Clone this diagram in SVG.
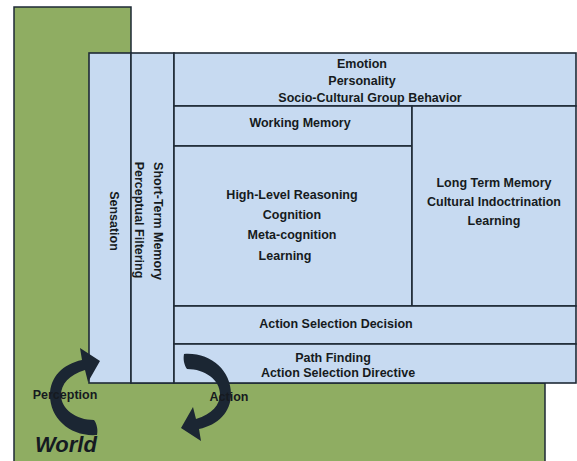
<svg xmlns="http://www.w3.org/2000/svg" width="577" height="461" viewBox="0 0 577 461">
<defs>
<style>
.world{fill:#8fad62;stroke:#1e2a36;stroke-width:1.5}
.cell{fill:#c7daf1;stroke:#1e2a36;stroke-width:1.6}
.t{font-family:"Liberation Sans",Arial,sans-serif;font-weight:bold;font-size:12.5px;fill:#161a20;text-anchor:middle}
.wt{font-family:"Liberation Sans",Arial,sans-serif;font-weight:bold;font-style:italic;font-size:22px;fill:#151a22}
.arrow{fill:#1b2633}
</style>
<path id="curl" d="M184,354 C210,352 231,370 231,394 C231,412 218,425 199,429 L201,441 L181,428 L193,407 L196,419 C212,414 220,405 220,394 C220,380 205,369 187,369 C184,365 183,359 184,354 Z"/>
</defs>
<rect width="577" height="461" fill="#ffffff"/>
<g id="world">
<path class="world" d="M14,7 H131 V383 H545 V465 H14 Z"/>
<text class="wt" x="35" y="452">World</text>
</g>
<g id="sensation">
<rect class="cell" x="89" y="53" width="42" height="330"/>
<text class="t" transform="translate(110,221) rotate(90)">Sensation</text>
</g>
<g id="short-term-memory">
<rect class="cell" x="131" y="53" width="43" height="330"/>
<text class="t" transform="translate(154,221) rotate(90)">Short-Term Memory</text>
<text class="t" transform="translate(135,220) rotate(90)">Perceptual Filtering</text>
</g>
<g id="emotion">
<rect class="cell" x="174" y="53" width="402" height="53"/>
<text class="t" x="362" y="68">Emotion</text>
<text class="t" x="362" y="85">Personality</text>
<text class="t" x="370" y="102">Socio-Cultural Group Behavior</text>
</g>
<g id="working-memory">
<rect class="cell" x="174" y="106" width="238" height="40"/>
<text class="t" x="300" y="127">Working Memory</text>
</g>
<g id="reasoning">
<rect class="cell" x="174" y="146" width="238" height="160"/>
<text class="t" x="292" y="199">High-Level Reasoning</text>
<text class="t" x="292" y="219">Cognition</text>
<text class="t" x="292" y="239">Meta-cognition</text>
<text class="t" x="285" y="260">Learning</text>
</g>
<g id="long-term-memory">
<rect class="cell" x="412" y="106" width="164" height="200"/>
<text class="t" x="494" y="187">Long Term Memory</text>
<text class="t" x="494" y="206">Cultural Indoctrination</text>
<text class="t" x="494" y="225">Learning</text>
</g>
<g id="action-selection-decision">
<rect class="cell" x="174" y="306" width="402" height="38"/>
<text class="t" x="336" y="328">Action Selection Decision</text>
</g>
<g id="path-finding">
<rect class="cell" x="174" y="344" width="402" height="39"/>
<text class="t" x="333" y="362">Path Finding</text>
<text class="t" x="338" y="377">Action Selection Directive</text>
</g>
<g id="connectors">
<use href="#curl" class="arrow" transform="rotate(180 140.5 394.5)"/>
<use href="#curl" class="arrow"/>
</g>
<g id="labels">
<text class="t" x="65" y="399">Perception</text>
<text class="t" x="229" y="401">Action</text>
</g>
</svg>
